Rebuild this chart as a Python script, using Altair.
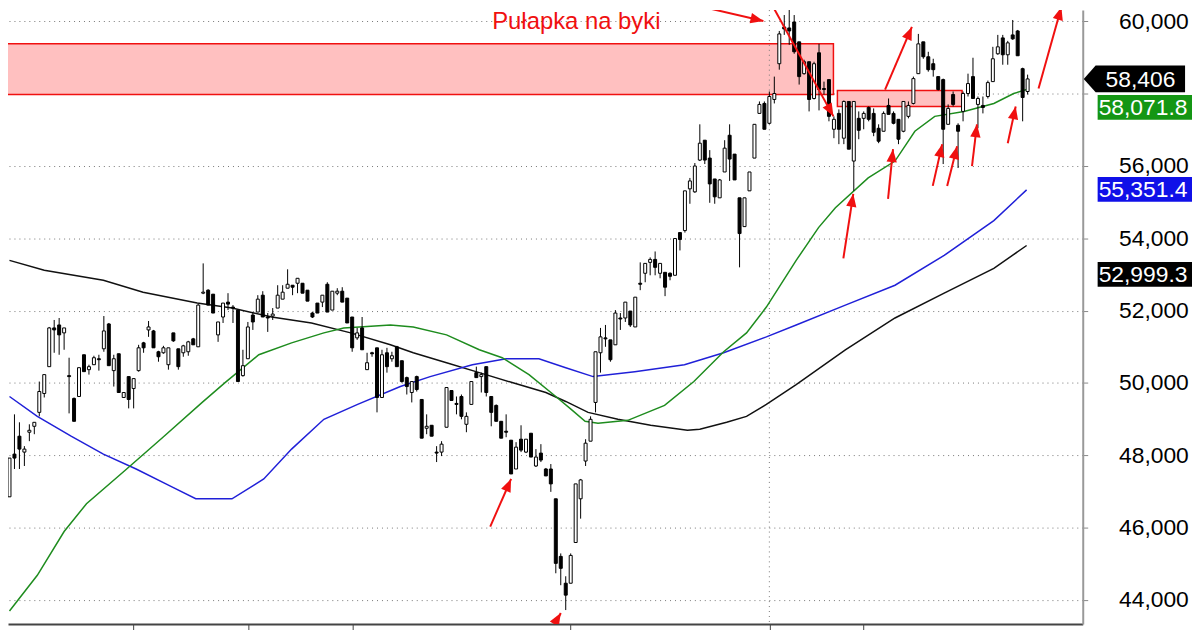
import altair as alt
import pandas as pd

# ---------------- candle data (index, OHLC) ----------------
OPEN = [46850, 48031, 48526, 48086, 48636, 48800, 49185, 49707, 50449, 51520,
        51602, 51383, 50201, 49570, 49624, 50778, 50366, 50503, 50668, 50943,
        51630, 50339, 50806, 49597, 50174, 49844, 50339, 51108, 51465, 51437,
        50861, 50833, 50503, 51383, 50943, 50833, 50861, 51218, 50998, 52481,
        52564, 52454, 51328, 51822, 52234, 52097, 52014, 50201, 50668, 51877,
        51959, 52426, 51822, 51849, 52069, 52316, 52619, 52701, 52756, 52756,
        52564, 51932, 52207, 52234, 52728, 52014, 52481, 52536, 52344, 51822,
        51245, 51520, 50366, 50833, 50970, 49597, 50833, 50668, 50998, 50613,
        50146, 49734, 50174, 49542, 48745, 48828, 48086, 48086, 48773, 49789,
        49432, 49624, 48855, 49405, 50284, 50174, 50449, 49624, 49377, 48938,
        48663, 48416, 47619, 48443, 48086, 48608, 47702, 48059, 47619, 47619,
        46795, 45202, 44460, 44460, 45586, 46795, 47839, 48388, 49460, 50833,
        51245, 51190, 51053, 51795, 51795, 51987, 51547, 52756, 53031, 53333,
        53415, 53031, 53058, 53031, 52976, 54157, 54212, 55366, 55283, 56162,
        56712, 56217, 55640, 55118, 55833, 56849, 56327, 55118, 54322, 55311,
        56217, 57453, 57728, 57179, 57838, 58827, 59843, 59816, 59981, 59431,
        58552, 58882, 57865, 59129, 58140, 58387, 57014, 57453, 56767, 57783,
        56135, 57316, 57316, 57618, 57453, 57041, 56959, 57673, 57453, 57289,
        56959, 57371, 57728, 58552, 59431, 59019, 58827, 58470, 58387, 57151,
        57975, 57124, 57508, 58003, 58470, 57701, 57673, 57920, 58332, 59102,
        59541, 59074, 59624, 59733, 58690, 58058]
HIGH = [47921, 49130, 48910, 48251, 48855, 48910, 50037, 50229, 51547, 51740,
        51795, 51520, 50696, 49597, 50421, 50778, 50503, 50751, 50778, 51849,
        51657, 50778, 50806, 49734, 50174, 50119, 51053, 51135, 51712, 51465,
        50888, 51025, 50970, 51383, 50943, 51053, 51163, 51245, 52179, 53305,
        52591, 52454, 51685, 52207, 52481, 52152, 52014, 50916, 51685, 51959,
        52426, 52536, 51932, 52069, 52701, 52701, 53141, 52701, 52893, 52756,
        52564, 51959, 52207, 52426, 52783, 52536, 52619, 52646, 52344, 51822,
        51520, 51822, 50833, 50861, 50970, 50916, 50970, 50861, 51025, 50613,
        50174, 50037, 50201, 49542, 49130, 48828, 48251, 48388, 49872, 49789,
        49624, 49679, 49185, 50037, 50449, 50284, 50449, 49624, 49405, 48938,
        49130, 48416, 48361, 48828, 48443, 48608, 48169, 48306, 47647, 47756,
        46795, 45284, 44652, 45284, 47207, 47344, 48443, 49075, 50861, 51520,
        51602, 51190, 52014, 51932, 52234, 51987, 52371, 53333, 53305, 53470,
        53635, 53305, 53058, 53058, 53992, 54157, 55311, 55668, 56080, 57151,
        56712, 56437, 55640, 55640, 56712, 57151, 56327, 55118, 55118, 55833,
        57151, 57783, 57783, 58058, 58470, 59733, 60173, 60475, 60173, 59431,
        58937, 58882, 58882, 59376, 58332, 58387, 57371, 57563, 57810, 57783,
        57783, 57508, 57508, 57646, 57591, 57151, 57508, 57865, 57508, 57289,
        57783, 57783, 58470, 59651, 59431, 59157, 58964, 58470, 58415, 57701,
        58058, 57179, 58058, 58552, 58992, 57920, 57920, 58360, 59294, 59624,
        59624, 59459, 60036, 59761, 58717, 58525]
LOW = [46850, 47619, 47619, 47702, 48388, 48581, 49075, 49597, 50449, 50833,
       50778, 50916, 49157, 48938, 49624, 50311, 50229, 50503, 50339, 50861,
       50476, 49899, 49734, 49597, 49295, 49295, 50311, 50833, 51273, 50970,
       50586, 50806, 50366, 51135, 50366, 50723, 50751, 51053, 50998, 52454,
       52152, 51932, 51135, 51657, 52014, 51657, 50037, 50174, 50668, 51465,
       51959, 51822, 51410, 51740, 52069, 52316, 52619, 52426, 52481, 52481,
       52261, 51795, 51932, 52097, 51959, 52014, 52426, 52234, 51657, 50861,
       51190, 50916, 50366, 50723, 49185, 49597, 50284, 50586, 50449, 50009,
       49679, 49460, 49762, 48471, 48581, 48526, 47811, 47976, 48773, 49514,
       49130, 48993, 48636, 49405, 50146, 49734, 49624, 48800, 48938, 48471,
       48498, 47482, 47619, 48086, 48059, 47949, 47674, 47811, 47427, 46987,
       44735, 44405, 43718, 44460, 45586, 46246, 47702, 48388, 49185, 50284,
       50998, 50586, 51053, 51465, 51685, 51547, 51547, 52564, 52783, 52976,
       52976, 52893, 52399, 52838, 52976, 53663, 54157, 54954, 55256, 56135,
       56052, 54981, 54954, 55118, 55833, 55585, 55613, 53196, 54322, 55311,
       56217, 57453, 57014, 57151, 57728, 58662, 59624, 59349, 59102, 58250,
       58525, 57508, 57838, 57536, 57975, 57234, 56767, 56602, 56602, 56464,
       55311, 56739, 57014, 57234, 56822, 56629, 56959, 57426, 57151, 56602,
       56931, 57316, 57701, 58552, 58964, 58607, 58470, 58085, 56052, 57151,
       57646, 55943, 57234, 57920, 57865, 57041, 57453, 57865, 58332, 59074,
       58799, 58799, 59486, 59047, 57234, 57975]
CLOSE = [47921, 47921, 48169, 48169, 48690, 48910, 49762, 50229, 51520, 51465,
         51328, 51520, 50174, 48938, 50421, 50311, 50449, 50696, 50641, 51437,
         50476, 50668, 49734, 49734, 49542, 50119, 50970, 50970, 51547, 50970,
         50723, 50970, 50970, 51163, 50449, 51025, 51135, 51053, 52152, 52509,
         52152, 51932, 51685, 52207, 52179, 52069, 50037, 50476, 51547, 51685,
         52316, 51822, 51795, 51904, 52426, 52509, 52728, 52646, 52893, 52481,
         52261, 51822, 51932, 52426, 51959, 52536, 52536, 52234, 51657, 50970,
         51383, 50916, 50558, 50806, 49597, 50778, 50449, 50751, 50449, 50037,
         49899, 50037, 49817, 48471, 48800, 48526, 48059, 48306, 49872, 49514,
         49405, 49075, 49075, 50037, 50146, 50229, 49734, 49185, 48938, 48471,
         48636, 47482, 48223, 48141, 48443, 47949, 47949, 47866, 47427, 47207,
         45009, 44872, 44130, 45229, 47207, 47317, 48333, 48993, 50861, 51273,
         51218, 50641, 51932, 51767, 52234, 51602, 52371, 52728, 53305, 53415,
         53196, 53305, 52646, 52948, 53992, 53965, 55311, 55585, 55997, 56629,
         56162, 55503, 55146, 55613, 56492, 56190, 55613, 54130, 55118, 55833,
         57151, 57701, 57014, 57920, 58003, 59651, 59788, 59733, 59157, 58470,
         58882, 57838, 58827, 58113, 58113, 57371, 57289, 57014, 57783, 56464,
         57783, 56986, 57453, 57289, 56931, 56684, 57453, 57426, 57179, 56739,
         57783, 57673, 58415, 59376, 59019, 58662, 58662, 58113, 57014, 57591,
         57701, 56959, 58003, 58278, 57865, 57865, 57618, 58305, 58964, 59294,
         59074, 59404, 59514, 59047, 57893, 58406]

# ---------------- moving averages ----------------
MA_GREEN_I = [0, 5.6, 11, 15.5, 22.9, 30.9, 38.8, 43.4, 50.2, 56.8, 63.3, 67.3, 76.7,
              81.3, 88, 94.6, 99.2, 104.6, 110, 113.1, 115.9, 118.5, 124.5, 131.9,
              137.8, 143.8, 148.4, 152.4, 158.4, 162.9, 166.3, 172.9, 178.3, 182.3,
              186.3, 192.2, 198.2, 202.2, 204.8]
MA_GREEN_V = [43691, 44680, 45889, 46658, 47537, 48498, 49460, 50009, 50778, 51108,
              51383, 51520, 51602, 51547, 51328, 50916, 50696, 50229, 49624, 49267,
              48938, 48883, 48965, 49377, 50037, 50861, 51383, 52097, 53388, 54294,
              54844, 55668, 56135, 56959, 57371, 57508, 57728, 58003, 58113]
MA_BLUE_I = [0, 5.6, 12.4, 18.9, 25.5, 32.3, 37.5, 44.8, 51.2, 56.8, 63.3, 70.1, 78.7,
             84.7, 93.2, 100, 106.6, 112.0, 117.5, 125.9, 135.9, 143.8, 152.4, 158.4,
             168.3, 178.3, 188.2, 198.2, 204.8]
MA_BLUE_V = [49624, 49075, 48526, 48031, 47619, 47152, 46795, 46795, 47344, 48169,
             48993, 49405, 49899, 50174, 50503, 50668, 50668, 50421, 50174, 50311,
             50503, 50833, 51273, 51602, 52152, 52701, 53525, 54487, 55338]
MA_BLACK_I = [0, 7.0, 18.9, 26.9, 37.8, 44.8, 52.8, 60.8, 68.7, 76.7, 81.3, 88.0, 94.6,
              101.2, 108.0, 112.0, 116.5, 122.5, 129.1, 136.5, 139.0, 144.4, 148.4,
              152.4, 158.4, 168.3, 178.3, 188.2, 198.2, 204.8]
MA_BLACK_V = [53388, 53113, 52838, 52509, 52207, 52069, 51822, 51657, 51383, 51053,
              50833, 50558, 50284, 50009, 49734, 49487, 49185, 48993, 48828, 48690,
              48718, 48910, 49075, 49405, 49954, 50916, 51795, 52481, 53168, 53800]

# ---------------- annotations ----------------
ZONE_X1 = [-2, 166.7]
ZONE_X2 = [165.9, 191.8]
ZONE_TOP = [59376, 58085]
ZONE_BOT = [57975, 57646]

ARROW_X1 = [138.0, 154.0, 167.9, 176.9, 176.3, 185.9, 188.8, 193.8, 201.0, 207.2, 96.8, 107.6]
ARROW_Y1 = [60448, 60338, 53443, 55091, 58113, 55448, 55448, 55997, 56629, 58140, 46026, 42675]
ARROW_X2 = [151.8, 165.9, 169.9, 177.9, 181.7, 187.8, 190.8, 194.8, 202.6, 211.8, 101.0, 111.0]
ARROW_Y2 = [60008, 57371, 55228, 56464, 59843, 56602, 56547, 57151, 57646, 60393, 47344, 43636]
ARROW_ANGLE = [103, 151, 9, 6, 23, 13, 14, 7, 12, 16, 24, 30]

NOTE_TEXT = ["Pułapka na byki"]
NOTE_X = [97.2]
NOTE_Y = [59780]

TAG_TEXT = ["58,406", "58,071.8", "55,351.4", "52,999.3"]
TAG_Y = [58406, 57618, 55351.4, 52999.3]
TAG_COLOR = ["#000000", "#149614", "#1010e8", "#000000"]

X_TICKS = [24.9, 48.0, 69.1, 112.9, 153.0, 171.9]
V_GRID = [153.0]
Y_TICKS = [44000, 46000, 48000, 50000, 52000, 54000, 56000, 58000, 60000]
HIDDEN_Y_LABEL = 58000  # covered by the price tags in the original

RED = "#f01010"

# ---------------- tables ----------------
candles = pd.DataFrame({"i": list(range(len(OPEN))), "open": OPEN, "high": HIGH,
                        "low": LOW, "close": CLOSE})
candles["fill"] = ["#ffffff" if c >= o else "#000000" for o, c in zip(OPEN, CLOSE)]

green = pd.DataFrame({"i": MA_GREEN_I, "v": MA_GREEN_V})
blue = pd.DataFrame({"i": MA_BLUE_I, "v": MA_BLUE_V})
black = pd.DataFrame({"i": MA_BLACK_I, "v": MA_BLACK_V})
zones = pd.DataFrame({"x1": ZONE_X1, "x2": ZONE_X2, "y1": ZONE_TOP, "y2": ZONE_BOT})
arrows = pd.DataFrame({"x1": ARROW_X1, "y1": ARROW_Y1, "x2": ARROW_X2, "y2": ARROW_Y2,
                       "a": ARROW_ANGLE})
note = pd.DataFrame({"x": NOTE_X, "y": NOTE_Y, "t": NOTE_TEXT})
tags = pd.DataFrame({"t": TAG_TEXT, "y": TAG_Y, "c": TAG_COLOR})
vgrid = pd.DataFrame({"x": V_GRID})

XS = alt.Scale(domain=[-0.3, 216.1], nice=False, zero=False, padding=0)
YS = alt.Scale(domain=[43334, 60310], nice=False, zero=False, padding=0)
FONT = "Liberation Sans"

x_axis = alt.Axis(values=X_TICKS, labels=False, ticks=True, tickSize=8, tickColor="#444444",
                  domainColor="#444444", domainWidth=2, grid=False, title=None, zindex=0)
y_axis = alt.Axis(orient="right", values=Y_TICKS, format=",d",
                  labelExpr=f"datum.value == {HIDDEN_Y_LABEL} ? '' : format(datum.value, ',d')",
                  labelFont=FONT,
                  labelFontSize=23, labelColor="#000000", labelAlign="left",
                  labelBaseline="middle", labelPadding=31, tickSize=5, tickColor="#888888",
                  domainColor="#999999", domainWidth=2, grid=True, gridColor="#777777",
                  gridDash=[1, 4], gridWidth=1, title=None, labelOverlap=False, zindex=0)


def X(f):
    return alt.X(f, type="quantitative", scale=XS, axis=x_axis)


def Y(f):
    return alt.Y(f, type="quantitative", scale=YS, axis=y_axis)


zone_layer = alt.Chart(zones).mark_rect(fill="#ffc0c0", stroke=RED, strokeWidth=1.5, clip=True).encode(
    x=X("x1"), x2="x2", y=Y("y1"), y2="y2")

vgrid_layer = alt.Chart(vgrid).mark_rule(color="#777777", strokeDash=[1, 4], strokeWidth=1).encode(
    x=X("x"))


def ma_layer(df, color):
    return alt.Chart(df).mark_line(color=color, strokeWidth=1.5, clip=True).encode(
        x=X("i"), y=Y("v"))


wicks = alt.Chart(candles).mark_rule(color="#000000", strokeWidth=1, clip=True).encode(
    x=X("i"), y=Y("low"), y2="high")
bodies = alt.Chart(candles).mark_bar(size=3, stroke="#000000", strokeWidth=1, clip=True).encode(
    x=X("i"), y=Y("open"), y2="close", fill=alt.Fill("fill:N", scale=None))

arrow_lines = alt.Chart(arrows).mark_rule(color=RED, strokeWidth=2, clip=True).encode(
    x=X("x1"), y=Y("y1"), x2="x2", y2="y2")
arrow_heads = alt.Chart(arrows).mark_point(shape="M0,0L0.8,2L-0.8,2Z", size=169, filled=True,
                                           color=RED, opacity=1, strokeWidth=0, clip=True).encode(
    x=X("x2"), y=Y("y2"), angle=alt.Angle("a:Q", scale=None))

note_layer = alt.Chart(note).mark_text(align="left", baseline="alphabetic", fontSize=24,
                                       font=FONT, color=RED).encode(
    x=X("x"), y=Y("y"), text="t:N")

tag_first = tags.iloc[:1]
tag_rest = tags.iloc[1:]
tag_pent = alt.Chart(tag_first).mark_point(
    shape="M-2.28,0L-1.8,-0.54L1.8,-0.54L1.8,0.54L-1.8,0.54Z", size=2500, filled=True,
    opacity=1, strokeWidth=0, color="#000000").encode(
    x=alt.value(1140), y=Y("y"))
tag_boxes = alt.Chart(tag_rest).mark_point(
    shape="M-2,-0.5L2,-0.5L2,0.5L-2,0.5Z", size=2500, filled=True, opacity=1,
    strokeWidth=0).encode(
    x=alt.value(1147), y=Y("y"), fill=alt.Fill("c:N", scale=None))
tag_text1 = alt.Chart(tag_first).mark_text(align="left", baseline="middle", fontSize=23,
                                           font=FONT, color="#ffffff", dy=1).encode(
    x=alt.value(1105), y=Y("y"), text="t:N")
tag_text2 = alt.Chart(tag_rest).mark_text(align="left", baseline="middle", fontSize=23,
                                          font=FONT, color="#ffffff", dy=1).encode(
    x=alt.value(1098), y=Y("y"), text="t:N")

chart = alt.layer(
    zone_layer, vgrid_layer,
    ma_layer(black, "#111111"), ma_layer(blue, "#2020d8"), ma_layer(green, "#1e8c1e"),
    wicks, bodies, arrow_lines, arrow_heads, note_layer,
    tag_pent, tag_boxes, tag_text1, tag_text2,
).properties(
    width=1082, height=618,
    padding={"left": 0, "top": 0, "right": 110, "bottom": 4},
    autosize=alt.AutoSizeParams(type="none"),
).configure_view(stroke="transparent")

chart.save("out.html", embed_options={"renderer": "svg", "actions": False})
